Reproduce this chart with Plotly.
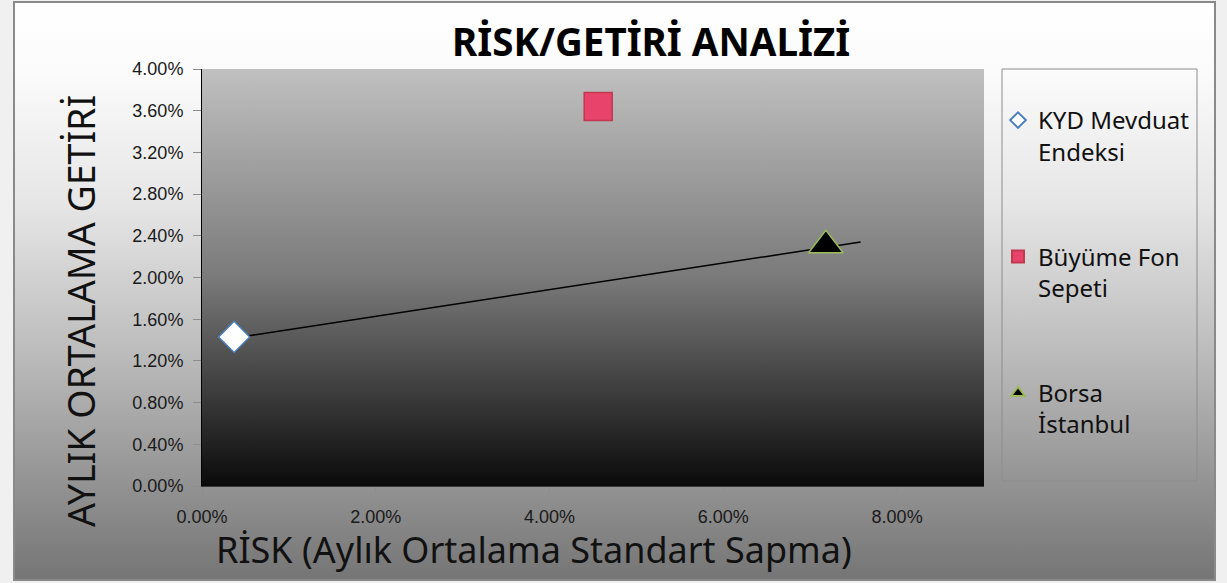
import base64
import plotly.graph_objects as go

# ---- data ----
series_names = ["KYD Mevduat<br>Endeksi", "Büyüme Fon<br>Sepeti", "Borsa<br>İstanbul"]
risk_values = [0.0037, 0.0456, 0.0718]
return_values = [0.0143, 0.0364, 0.0231]
trend_x = [0.0037, 0.0758]
trend_y = [0.0142, 0.0234]
x_ticks = [0.0, 0.02, 0.04, 0.06, 0.08]
y_ticks = [0.0, 0.004, 0.008, 0.012, 0.016, 0.020, 0.024, 0.028, 0.032, 0.036, 0.040]

W, H = 1227, 583
L, R, T, B = 202, 984, 69, 486
pw, ph = R - L, B - T


def px2x(p):
    return (p - L) / pw


def px2y(p):
    return (B - p) / ph


def svg_grad(stops):
    st = "".join(f'<stop offset="{o}" stop-color="{c}"/>' for o, c in stops)
    svg = ('<svg xmlns="http://www.w3.org/2000/svg" width="100" height="100" preserveAspectRatio="none">'
           '<defs><linearGradient id="g" x1="0" y1="0" x2="0" y2="1">' + st +
           '</linearGradient></defs><rect width="100" height="100" fill="url(#g)"/></svg>')
    return "data:image/svg+xml;base64," + base64.b64encode(svg.encode()).decode()


chart_bg = svg_grad([(0, "#ffffff"), (0.12, "#fbfbfb"), (0.35, "#e6e6e6"), (0.6, "#bdbdbd"), (1, "#757575")])
plot_bg = svg_grad([(0, "#c0c0c0"), (0.5, "#7a7a7a"), (1, "#0a0a0a")])

marker_styles = [
    dict(symbol="diamond", size=24, color="#ffffff", line=dict(color="#4a7ebb", width=1.5)),
    dict(symbol="square", size=28, color="#e8436a", line=dict(color="#c0394f", width=1.5)),
    dict(symbol="triangle-up", size=30, color="#000000", line=dict(color="#9bbb59", width=1.5)),
]

fig = go.Figure()
fig.add_trace(go.Scatter(x=trend_x, y=trend_y, mode="lines", line=dict(color="#000000", width=1.5),
                         showlegend=False, hoverinfo="skip"))
for i, name in enumerate(series_names):
    fig.add_trace(go.Scatter(x=[risk_values[i]], y=[return_values[i]], mode="markers", name=name,
                             legendgroup=f"g{i}", marker=marker_styles[i]))

fig.update_layout(
    width=W, height=H,
    margin=dict(l=L, r=W - R, t=T, b=H - B),
    paper_bgcolor="#f0f0f0",
    plot_bgcolor="rgba(0,0,0,0)",
    font=dict(family="Noto Sans", color="#111111"),
    showlegend=True,
    legend=dict(x=px2x(998), y=px2y(98), xanchor="left", yanchor="top",
                bgcolor="rgba(0,0,0,0)", borderwidth=0,
                font=dict(family="Noto Sans", size=24, color="#111111"),
                traceorder="grouped", tracegroupgap=71, itemsizing="constant",
                itemwidth=30, valign="top"),
    xaxis=dict(range=[0, 0.09], tickvals=x_ticks, tickformat=".2%", ticks="outside", ticklen=6,
               tickcolor="#8c8c8c", showline=True, linecolor="#3a3a3a", showgrid=False, zeroline=False,
               ticklabelstandoff=8,
               tickfont=dict(family="Liberation Sans", size=18, color="#1a1a1a")),
    yaxis=dict(range=[0, 0.04], tickvals=y_ticks, tickformat=".2%", ticks="outside", ticklen=8,
               tickcolor="#8c8c8c", showline=True, linecolor="#000000", showgrid=False, zeroline=False,
               ticklabelstandoff=6,
               tickfont=dict(family="Liberation Sans", size=18, color="#1a1a1a")),
    images=[
        dict(source=chart_bg, xref="paper", yref="paper", x=px2x(14), y=px2y(2),
             sizex=px2x(1215) - px2x(14), sizey=px2y(2) - px2y(580),
             sizing="stretch", layer="below", xanchor="left", yanchor="top"),
        dict(source=plot_bg, xref="paper", yref="paper", x=0, y=1, sizex=1, sizey=1,
             sizing="stretch", layer="below", xanchor="left", yanchor="top"),
    ],
    shapes=[
        dict(type="rect", xref="paper", yref="paper", x0=px2x(14), x1=px2x(1215), y0=px2y(580), y1=px2y(2),
             line=dict(color="#8a8a8a", width=2), fillcolor="rgba(0,0,0,0)", layer="below"),
        dict(type="rect", xref="paper", yref="paper", x0=px2x(1002), x1=px2x(1197), y0=px2y(481), y1=px2y(69),
             line=dict(color="#8c8c8c", width=1), fillcolor="rgba(0,0,0,0)", layer="below"),
    ],
    annotations=[
        dict(text="<b>RİSK/GETİRİ ANALİZİ</b>", xref="paper", yref="paper", x=px2x(651), y=px2y(41),
             xanchor="center", yanchor="middle", showarrow=False,
             font=dict(family="Noto Sans", size=38.5, color="#000000")),
        dict(text="AYLIK ORTALAMA GETİRİ", xref="paper", yref="paper", x=px2x(80), y=px2y(311),
             xanchor="center", yanchor="middle", showarrow=False, textangle=-90,
             font=dict(family="Noto Sans", size=37.5, color="#111111")),
        dict(text="RİSK (Aylık Ortalama Standart Sapma)", xref="paper", yref="paper", x=px2x(534), y=px2y(549),
             xanchor="center", yanchor="middle", showarrow=False,
             font=dict(family="Noto Sans", size=36, color="#111111")),
    ],
)

fig.write_html("out.html", config={"displayModeBar": False},
               post_script="document.body.style.margin='0';document.body.style.padding='0';")
